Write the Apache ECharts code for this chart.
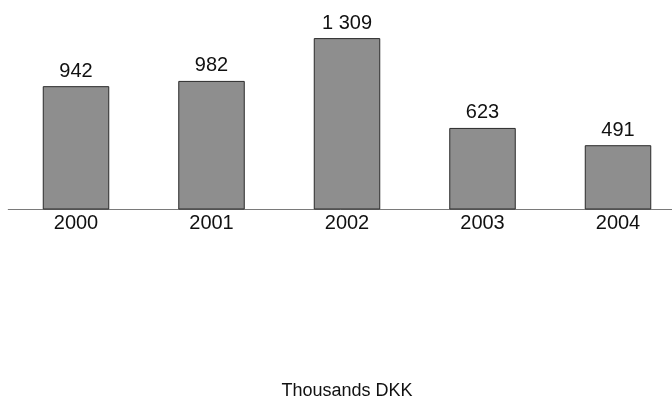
<!DOCTYPE html>
<html>
<head>
<meta charset="utf-8">
<script src="https://cdn.jsdelivr.net/npm/echarts@6/dist/echarts.min.js"></script>
<style>
html,body{margin:0;padding:0;background:#fff;}
#chart{width:672px;height:398px;}
</style>
</head>
<body>
<div id="chart"></div>
<script>
var categories = ['2000', '2001', '2002', '2003', '2004'];
var values = [942, 982, 1309, 623, 491];
var axisName = 'Thousands DKK';

function fmt(v) {
  return String(v).replace(/\B(?=(\d{3})+(?!\d))/g, ' ');
}

var chart = echarts.init(document.getElementById('chart'), null, {renderer: 'canvas'});
chart.setOption({
  animation: false,
  backgroundColor: '#ffffff',
  grid: {left: 8.25, right: -13.75, top: 0, bottom: 188.5, containLabel: false, outerBoundsMode: 'none'},
  xAxis: {
    type: 'category',
    data: categories,
    axisLine: {show: true, lineStyle: {color: '#7a7a7a', width: 1}},
    axisTick: {show: false},
    axisLabel: {color: '#111', fontFamily: 'Liberation Sans', fontSize: 20, margin: 4},
    name: axisName,
    nameLocation: 'middle',
    nameGap: 173,
    nameTextStyle: {color: '#111', fontFamily: 'Liberation Sans', fontSize: 18}
  },
  yAxis: {
    type: 'value',
    min: 0,
    max: 1600,
    show: false,
    splitLine: {show: false}
  },
  series: [{
    type: 'bar',
    data: values,
    barWidth: 66.5,
    itemStyle: {color: '#8e8e8e', borderColor: '#2a2a2a', borderWidth: 1},
    label: {
      show: true,
      position: 'top',
      distance: 5,
      color: '#111',
      fontFamily: 'Liberation Sans',
      fontSize: 20,
      formatter: function (p) { return fmt(p.value); }
    }
  }]
});
</script>
</body>
</html>
